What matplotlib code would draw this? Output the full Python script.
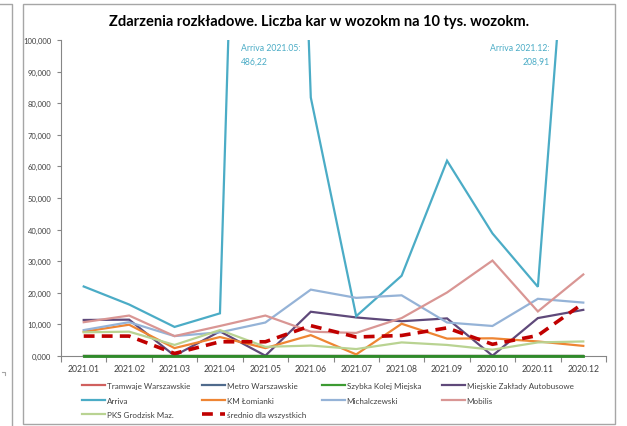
import matplotlib
matplotlib.use("Agg")
import matplotlib.pyplot as plt
from matplotlib.lines import Line2D
from matplotlib.patches import Rectangle

plt.rcParams['font.family'] = ['Lato', 'DejaVu Sans']

# dane
miesiace = ['2021.01', '2021.02', '2021.03', '2021.04', '2021.05', '2021.06',
            '2021.07', '2021.08', '2021.09', '2020.10', '2020.11', '2020.12']

tramwaje = [0, 0, 0, 0, 0, 0, 0, 0, 0, 0, 0, 0]
metro = [0, 0, 0, 0, 0, 0, 0, 0, 0, 0, 0, 0]
skm = [0, 0, 0, 0, 0, 0, 0, 0, 0, 0, 0, 0]
mza = [11.4, 11.5, 0.1, 7.8, 0.1, 14.0, 12.2, 11.0, 11.9, 0.1, 12.0, 14.6]
arriva = [22.0, 16.3, 9.2, 13.5, 486.22, 81.8, 12.6, 25.4, 61.8, 38.8, 21.9, 208.91]
km_lomianki = [7.7, 9.9, 2.5, 6.0, 2.5, 6.6, 0.5, 10.2, 5.5, 5.6, 4.6, 3.2]
michalczewski = [8.2, 10.7, 6.3, 7.5, 10.6, 21.0, 18.4, 19.2, 10.6, 9.5, 18.1, 16.9]
mobilis = [10.7, 12.8, 6.3, 9.5, 12.8, 7.7, 7.3, 12.0, 20.1, 30.2, 14.1, 25.8]
pks = [7.5, 7.7, 3.5, 8.2, 2.9, 3.3, 2.2, 4.3, 3.5, 2.0, 4.3, 4.6]
srednio = [6.3, 6.3, 0.8, 4.5, 4.5, 9.6, 6.0, 6.5, 8.9, 3.7, 6.5, 16.7]

serie = [
    ('Tramwaje Warszawskie', tramwaje, '#D0605E'),
    ('Metro Warszawskie', metro, '#4F6A8C'),
    ('Szybka Kolej Miejska', skm, '#3C9A32'),
    ('Miejskie Zakłady Autobusowe', mza, '#5F497A'),
    ('Arriva', arriva, '#4BACC6'),
    ('KM Łomianki', km_lomianki, '#EE8533'),
    ('Michalczewski', michalczewski, '#95B3D7'),
    ('Mobilis', mobilis, '#D99694'),
    ('PKS Grodzisk Maz.', pks, '#B9D392'),
]

fig = plt.figure(figsize=(6.27, 4.27), dpi=100)
fig.patch.set_facecolor('white')

# ramka wykresu + resztka ramki sąsiedniego wykresu z lewej
fig.add_artist(Rectangle((23 / 627, 1 - 425 / 427), 592 / 627, 420 / 427,
                         transform=fig.transFigure, fill=False,
                         edgecolor='#A6A6A6', lw=1.0))
fig.add_artist(Line2D([0, 12 / 627, 12 / 627], [1 - 5 / 427, 1 - 5 / 427, 0],
                      transform=fig.transFigure, color='#A6A6A6', lw=1.0))
fig.add_artist(Line2D([2 / 627, 5 / 627, 5 / 627], [1 - 373 / 427, 1 - 373 / 427, 1 - 376 / 427],
                      transform=fig.transFigure, color='#A6A6A6', lw=0.8))

ax = fig.add_axes([61 / 627, 70 / 427, 545 / 627, 316 / 427])
x = list(range(len(miesiace)))

handles = {}
for nazwa, wart, kolor in serie:
    zero = all(v == 0 for v in wart)
    ln, = ax.plot(x, wart, color=kolor, lw=1.6, label=nazwa, solid_joinstyle='miter',
                  clip_on=not zero)
    handles[nazwa] = ln
# SKM na wierzchu linii zerowych
ax.plot(x, skm, color='#2F8A2A', lw=2.0, clip_on=False, zorder=3)
ln, = ax.plot(x, srednio, color='#C00000', lw=2.6, ls=(0, (3, 2)), label='średnio dla wszystkich',
              zorder=4)
handles['średnio dla wszystkich'] = ln

ax.set_xlim(-0.5, 11.5)
ax.set_ylim(0, 100)
ax.set_yticks(range(0, 101, 10))
ax.set_yticklabels([f"{v:.3f}".replace('.', ',') for v in range(0, 101, 10)])
ax.set_xticks(x)
ax.set_xticklabels(miesiace)
ax.set_xticks([i + 0.5 for i in range(-1, 12)], minor=True)
ax.tick_params(axis='x', which='major', length=0, labelsize=6.2, colors='#404040', pad=6)
ax.tick_params(axis='x', which='minor', length=4, color='#868686', width=0.8)
ax.tick_params(axis='y', length=3, color='#868686', width=0.8, labelsize=5.5, colors='#404040', pad=4)
for s in ['top', 'right']:
    ax.spines[s].set_visible(False)
for s in ['left', 'bottom']:
    ax.spines[s].set_color('#868686')
    ax.spines[s].set_linewidth(0.8)

ax.text(3.46, 99, 'Arriva 2021.05:\n486,22', color='#4BACC6', fontsize=6.2,
        ha='left', va='top', linespacing=1.7)
ax.text(10.25, 99, 'Arriva 2021.12:\n208,91', color='#4BACC6', fontsize=6.2,
        ha='right', va='top', linespacing=1.7, multialignment='right')

fig.text(319 / 627, 1 - 22 / 427, 'Zdarzenia rozkładowe. Liczba kar w wozokm na 10 tys. wozokm.',
         ha='center', va='center', fontsize=10.5, fontweight='bold', color='#000000')

# legenda: 4 kolumny w stałych odstępach jak w Excelu
kolumny = [['Tramwaje Warszawskie', 'Arriva', 'PKS Grodzisk Maz.'],
           ['Metro Warszawskie', 'KM Łomianki', 'średnio dla wszystkich'],
           ['Szybka Kolej Miejska', 'Michalczewski'],
           ['Miejskie Zakłady Autobusowe', 'Mobilis']]
for i, kol in enumerate(kolumny):
    leg = fig.legend([handles[k] for k in kol], kol, ncol=1,
                     loc='upper left', bbox_to_anchor=((82 + 120 * i) / 627, 1 - 383 / 427),
                     frameon=False, fontsize=5.8, handlelength=2.9, handletextpad=0.15,
                     labelspacing=0.95, borderaxespad=0, borderpad=0)
    for t in leg.get_texts():
        t.set_color('#404040')

fig.savefig('out.png', dpi=100, facecolor='white')
